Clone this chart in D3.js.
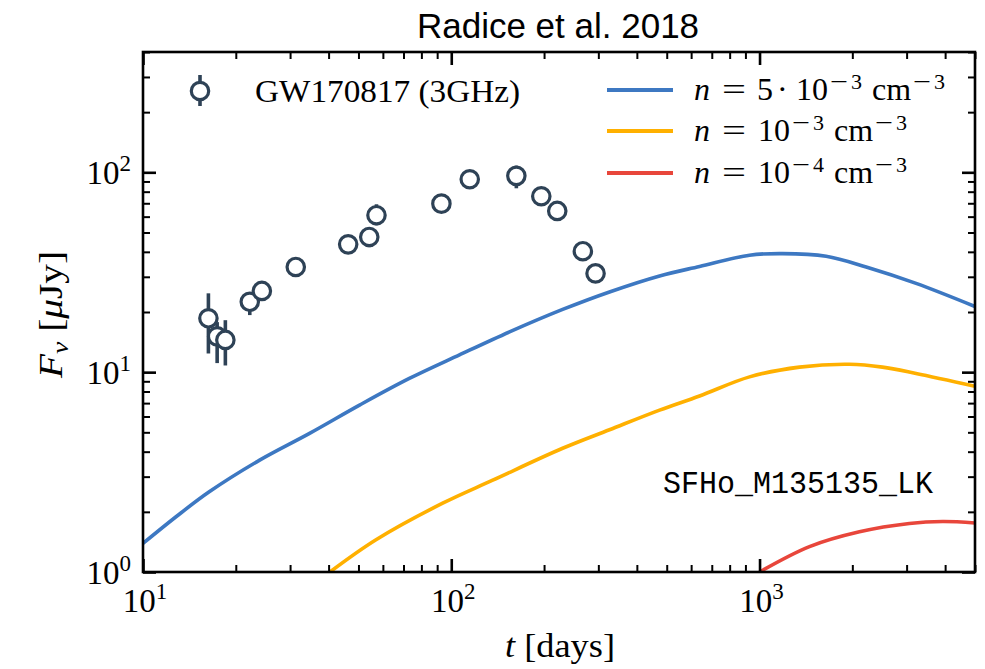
<!DOCTYPE html>
<html>
<head>
<meta charset="utf-8">
<script src="https://cdn.jsdelivr.net/npm/d3@7"></script>
<style>
  body { margin: 0; background: #fff; }
  text { fill: #000; }
</style>
</head>
<body>
<svg id="chart" width="985" height="669"></svg>
<script>
// GW170817 radio data at 3 GHz (days, microJy) with error bounds
var obsDays  = [16.3, 17.4, 18.5, 22.2, 24.3, 31.3, 46.3, 54.2, 57.2, 92.9, 114.8, 162.6, 195.9, 220.7, 267.2, 293.8];
var obsFlux  = [18.6, 15.1, 14.5, 22.5, 25.5, 33.6, 43.6, 47.5, 61.0, 69.7, 92.3, 96.0, 75.9, 64.1, 40.3, 31.2];
var obsLow   = [12.4, 11.1, 10.8, 19.3, 23.5, 31.0, 40.5, 42.2, 54.3, 65.5, 88.0, 83.2, 72.0, 60.5, 37.5, 28.8];
var obsHigh  = [24.8, 17.8, 18.2, 25.1, 27.5, 36.0, 46.5, 53.1, 69.2, 74.0, 96.5, 108.0, 80.0, 67.5, 43.0, 33.5];

// model light curves, SFHo_M135135_LK
var blueDays = [10, 12.8, 16.4, 23.9, 34.7, 50.4, 73.1, 106.3, 154.5, 229.8, 326, 474, 639, 928, 1187, 1645, 2218, 3220, 5000];
var blueFlux = [1.39, 1.89, 2.52, 3.63, 4.94, 6.84, 9.30, 12.2, 15.9, 20.6, 25.2, 30.3, 33.8, 38.5, 39.2, 38.0, 33.6, 27.8, 21.3];
var orangeDays = [40.4, 57.0, 93.8, 136.3, 229.8, 326, 474, 639, 928, 1348, 1957, 2504, 3220, 5000];
var orangeFlux = [1.0, 1.45, 2.21, 2.88, 4.16, 5.15, 6.46, 7.6, 9.47, 10.6, 10.95, 10.6, 9.85, 8.5];
var redDays = [1000, 1452, 2109, 3062, 3928, 5000];
var redFlux = [1.0, 1.34, 1.59, 1.75, 1.79, 1.76];

var xMajor = [10, 100, 1000];
var yMajor = [1, 10, 100];
var xExp = ["1", "2", "3"];
var yExp = ["0", "1", "2"];

var seriesColors = ["#3d78c2", "#ffb000", "#e8463b"];
var markColor = "#2e4256";

var margin = {left: 143, right: 975, top: 52, bottom: 572};
var svg = d3.select("#chart");

var x = d3.scaleLog().domain([10, 5000]).range([margin.left, margin.right]);
var y = d3.scaleLog().domain([1, 400]).range([margin.bottom, margin.top]);

function minors(lo, hi) {
  var out = [];
  for (var d = 1; d <= 1000; d *= 10) {
    for (var k = 2; k <= 9; k++) {
      var v = k * d;
      if (v > lo && v <= hi) out.push(v);
    }
  }
  return out;
}

svg.append("rect").attr("x", 0).attr("y", 0).attr("width", 985).attr("height", 669).attr("fill", "#fff");

svg.append("defs").append("clipPath").attr("id", "plotclip")
  .append("rect").attr("x", margin.left).attr("y", margin.top)
  .attr("width", margin.right - margin.left).attr("height", margin.bottom - margin.top);

// model curves
var line = d3.line().x(function(d){ return x(d[0]); }).y(function(d){ return y(d[1]); }).curve(d3.curveCatmullRom.alpha(0.5));
var curves = [[blueDays, blueFlux], [orangeDays, orangeFlux], [redDays, redFlux]];
var plot = svg.append("g").attr("clip-path", "url(#plotclip)");
curves.forEach(function(c, i){
  var pts = c[0].map(function(t, j){ return [t, c[1][j]]; });
  plot.append("path").datum(pts)
    .attr("d", line)
    .attr("fill", "none")
    .attr("stroke", seriesColors[i])
    .attr("stroke-width", 3.6);
});

// observed points with error bars
var obs = obsDays.map(function(t, i){ return {t: t, f: obsFlux[i], lo: obsLow[i], hi: obsHigh[i]}; });
plot.selectAll("line.err").data(obs).enter().append("line")
  .attr("class", "err")
  .attr("x1", function(d){ return x(d.t); }).attr("x2", function(d){ return x(d.t); })
  .attr("y1", function(d){ return y(d.lo); }).attr("y2", function(d){ return y(d.hi); })
  .attr("stroke", markColor).attr("stroke-width", 3.6);
plot.selectAll("circle.obs").data(obs).enter().append("circle")
  .attr("class", "obs")
  .attr("cx", function(d){ return x(d.t); })
  .attr("cy", function(d){ return y(d.f); })
  .attr("r", 8.7)
  .attr("fill", "#fff")
  .attr("stroke", markColor)
  .attr("stroke-width", 3.2);

// ticks, all four sides, pointing inward
var axes = svg.append("g");
function addAxis(gen, tr, vals, size, width) {
  var g = axes.append("g").attr("transform", tr)
    .call(gen.tickValues(vals).tickSize(size).tickFormat(""));
  g.select(".domain").remove();
  g.selectAll(".tick line").attr("stroke", "#000").attr("stroke-width", width);
}
var xMin = minors(10, 5000), yMin = minors(1, 400);
addAxis(d3.axisBottom(x), "translate(0," + margin.bottom + ")", xMajor, -13, 2.6);
addAxis(d3.axisBottom(x), "translate(0," + margin.bottom + ")", xMin, -7, 2);
addAxis(d3.axisTop(x), "translate(0," + margin.top + ")", xMajor, -13, 2.6);
addAxis(d3.axisTop(x), "translate(0," + margin.top + ")", xMin, -7, 2);
addAxis(d3.axisLeft(y), "translate(" + margin.left + ",0)", yMajor, -13, 2.6);
addAxis(d3.axisLeft(y), "translate(" + margin.left + ",0)", yMin, -7, 2);
addAxis(d3.axisRight(y), "translate(" + margin.right + ",0)", yMajor, -13, 2.6);
addAxis(d3.axisRight(y), "translate(" + margin.right + ",0)", yMin, -7, 2);

svg.append("rect")
  .attr("x", margin.left).attr("y", margin.top)
  .attr("width", margin.right - margin.left).attr("height", margin.bottom - margin.top)
  .attr("fill", "none").attr("stroke", "#000").attr("stroke-width", 2.6);

var serif = "'Liberation Serif', 'DejaVu Serif', serif";

// tick labels
xMajor.forEach(function(v, i){
  var t = svg.append("text").attr("x", x(v) + 2).attr("y", 612)
    .attr("text-anchor", "middle").attr("font-family", serif).attr("font-size", 33);
  t.append("tspan").text("10");
  t.append("tspan").attr("dy", -13).attr("font-size", 23).text(xExp[i]);
});
yMajor.forEach(function(v, i){
  var t = svg.append("text").attr("x", 131).attr("y", y(v) + 12)
    .attr("text-anchor", "end").attr("font-family", serif).attr("font-size", 33);
  t.append("tspan").text("10");
  t.append("tspan").attr("dy", -13).attr("font-size", 23).text(yExp[i]);
});

// axis labels
var xl = svg.append("text").attr("x", 505).attr("y", 657)
  .attr("font-family", serif).attr("font-size", 34)
  .attr("textLength", 110).attr("lengthAdjust", "spacingAndGlyphs");
xl.append("tspan").attr("font-style", "italic").text("t");
xl.append("tspan").text(" [days]");

var yl = svg.append("text").attr("transform", "translate(62,378) rotate(-90)")
  .attr("font-family", serif).attr("font-size", 34)
  .attr("textLength", 127).attr("lengthAdjust", "spacingAndGlyphs");
yl.append("tspan").attr("font-style", "italic").text("F");
yl.append("tspan").attr("font-style", "italic").attr("font-size", 24).attr("dy", 6).text("ν");
yl.append("tspan").attr("dy", -6).text("  [");
yl.append("tspan").attr("font-style", "italic").text("μ");
yl.append("tspan").text("Jy]");

// title
svg.append("text").attr("x", 558).attr("y", 38).attr("text-anchor", "middle")
  .attr("font-family", "'Liberation Sans', Arial, sans-serif").attr("font-size", 35)
  .text("Radice et al. 2018");

// model name
svg.append("text").attr("x", 663).attr("y", 493)
  .attr("font-family", "'Liberation Mono', 'DejaVu Sans Mono', monospace").attr("font-size", 32)
  .attr("textLength", 270).attr("lengthAdjust", "spacingAndGlyphs")
  .text("SFHo_M135135_LK");

// legend: data
svg.append("line").attr("x1", 200).attr("x2", 200).attr("y1", 75).attr("y2", 106)
  .attr("stroke", markColor).attr("stroke-width", 3.6);
svg.append("circle").attr("cx", 200).attr("cy", 91).attr("r", 8.7)
  .attr("fill", "#fff").attr("stroke", markColor).attr("stroke-width", 3.2);
svg.append("text").attr("x", 255).attr("y", 102)
  .attr("font-family", serif).attr("font-size", 32)
  .attr("textLength", 265).attr("lengthAdjust", "spacingAndGlyphs")
  .text("GW170817 (3GHz)");

// legend: models, pieces placed like TeX spacing
var legendPre = [["5", "·", "10"], ["10"], ["10"]];
var legendExpTxt = ["3", "3", "4"];
var legendY = [90, 131, 173];
legendPre.forEach(function(pre, i){
  var yy = legendY[i];
  svg.append("line").attr("x1", 607).attr("x2", 673).attr("y1", yy).attr("y2", yy)
    .attr("stroke", seriesColors[i]).attr("stroke-width", 4);
  var g = svg.append("g").attr("font-family", serif).attr("font-size", 32);
  var by = yy + 10;
  g.append("text").attr("x", 694).attr("y", by).attr("font-style", "italic").text("n");
  g.append("text").attr("x", 722).attr("y", by).attr("textLength", 24).attr("lengthAdjust", "spacingAndGlyphs").text("=");
  var cx = 758;
  if (pre.length === 3) {
    g.append("text").attr("x", 757).attr("y", by).text("5");
    g.append("text").attr("x", 777).attr("y", by).text("·");
    cx = 796;
  }
  g.append("text").attr("x", cx).attr("y", by).text("10");
  g.append("text").attr("x", cx + 34).attr("y", by - 11).attr("font-size", 22)
    .attr("textLength", 18).attr("lengthAdjust", "spacingAndGlyphs").text("−");
  g.append("text").attr("x", cx + 55).attr("y", by - 11).attr("font-size", 22).text(legendExpTxt[i]);
  g.append("text").attr("x", cx + 76).attr("y", by).text("cm");
  g.append("text").attr("x", cx + 117).attr("y", by - 11).attr("font-size", 22)
    .attr("textLength", 18).attr("lengthAdjust", "spacingAndGlyphs").text("−");
  g.append("text").attr("x", cx + 138).attr("y", by - 11).attr("font-size", 22).text("3");
});
</script>
</body>
</html>
